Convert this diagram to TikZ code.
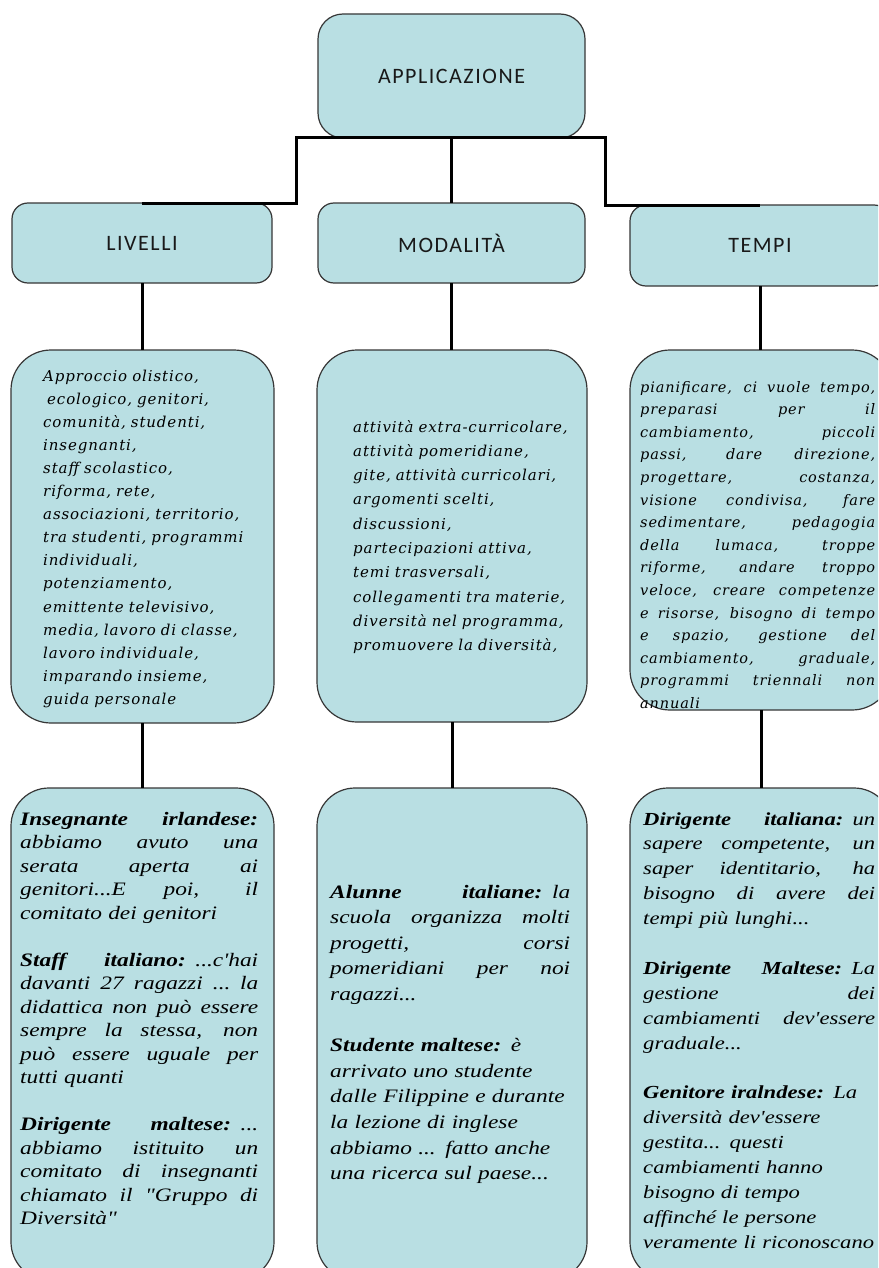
\documentclass[tikz,border=0pt]{standalone}
\usepackage{fontspec}
\newfontfamily\hfont{Carlito}[LetterSpace=7]
\newfontfamily\lfont{DejaVu Serif}[LetterSpace=6]
\newfontfamily\qfont{Liberation Serif}[FakeStretch=1.23]
\definecolor{boxfill}{RGB}{185,223,227}
\definecolor{edgecol}{RGB}{55,55,55}
\def\jw{240pt}
\newcommand\J[1]{\leavevmode\hbox to \jw{\spaceskip=0.25em plus 1fil\relax #1\unskip}\\}
\newcommand\bi[1]{{\bfseries #1}}
\tikzset{
  box/.style={draw=edgecol, line width=1.2pt, fill=boxfill, rounded corners=#1,
    anchor=north west, inner sep=0pt, outer sep=0pt},
  box/.default=16pt,
  conn/.style={draw=black, line width=3pt},
  head/.style={font=\hfont\fontsize{22}{26}\selectfont, text=black!90},
  lvtwo/.style={anchor=base west, inner sep=0pt, align=left,
    font=\lfont\itshape\fontsize{15}{#1}\selectfont},
  lvthree/.style={anchor=base west, inner sep=0pt, align=left,
    font=\qfont\itshape\fontsize{19}{#1}\selectfont},
}
\begin{document}
\begin{tikzpicture}[x=1pt,y=-1pt]
\useasboundingbox (0,0) rectangle (878,1268);
\clip (0,0) rectangle (878,1268);
\fill[white] (0,0) rectangle (878,1268);

% top and level 1
\node[box=25pt, minimum width=267pt, minimum height=124pt, head] (app) at (318,14) {APPLICAZIONE};
\node[box, minimum width=260pt, minimum height=80pt, head] (liv) at (12,203) {LIVELLI};
\node[box, minimum width=267pt, minimum height=80pt, head] (mod) at (318,203) {MODALITÀ};
\node[box, minimum width=260pt, minimum height=81pt, head] (tem) at (630,205) {TEMPI};

% level 2 boxes
\node[box=40pt, minimum width=263pt, minimum height=373pt] (liv2) at (11,350) {};
\node[box=40pt, minimum width=270pt, minimum height=372pt] (mod2) at (317,350) {};
\node[box=40pt, minimum width=262pt, minimum height=360pt] (tem2) at (630,350) {};

% level 3 boxes
\node[box=38pt, minimum width=263pt, minimum height=492pt] (liv3) at (11,788) {};
\node[box=38pt, minimum width=270pt, minimum height=492pt] (mod3) at (317,788) {};
\node[box=38pt, minimum width=262pt, minimum height=492pt] (tem3) at (630,788) {};

% connectors
\coordinate (bL) at (296,138);
\coordinate (bR) at (605,138);
\draw[conn] (liv.north) -| (bL) -- (bR) |- (tem.north);
\draw[conn] (app.south) -- (mod.north);
\draw[conn] (liv.south) -- (liv.south |- liv2.north);
\draw[conn] (mod.south) -- (mod.south |- mod2.north);
\draw[conn] (tem.south) -- (tem.south |- tem2.north);
\draw[conn] (liv2.south) -- (liv2.south |- liv3.north);
\draw[conn] (mod2.south) -- (mod2.south |- mod3.north);
\draw[conn] (tem2.south) -- (tem2.south |- tem3.north);

% level 2 texts
\node[lvtwo=23.1pt, text width=232pt] (liv2t) at (43,381) {%
Approccio olistico,\\
\hspace{4pt}ecologico, genitori,\\
comunità, studenti,\\
insegnanti,\\
staff scolastico,\\
riforma, rete,\\
associazioni, territorio,\\
tra studenti, programmi\\
individuali,\\
potenziamento,\\
emittente televisivo,\\
media, lavoro di classe,\\
lavoro individuale,\\
imparando insieme,\\
guida personale};

\node[lvtwo=24.3pt, text width=232pt] (mod2t) at (353,432) {%
attività extra-curricolare,\\
attività pomeridiane,\\
gite, attività curricolari,\\
argomenti scelti,\\
discussioni,\\
partecipazioni attiva,\\
temi trasversali,\\
collegamenti tra materie,\\
diversità nel programma,\\
promuovere la diversità,};

\node[lvtwo=22.6pt, text width=235pt, font=\lfont\itshape\fontsize{14.5}{22.6}\selectfont] (tem2t) at (640,392) {\def\jw{235pt}%
\J{pianificare, ci vuole tempo,}
\J{preparasi per il}
\J{cambiamento, piccoli}
\J{passi, dare direzione,}
\J{progettare, costanza,}
\J{visione condivisa, fare}
\J{sedimentare, pedagogia}
\J{della lumaca, troppe}
\J{riforme, andare troppo}
\J{veloce, creare competenze}
\J{e risorse, bisogno di tempo}
\J{e spazio, gestione del}
\J{cambiamento, graduale,}
\J{programmi triennali non}
annuali};

% level 3 texts
\node[lvthree=23.5pt, text width=238pt] (liv3t) at (20,825) {\def\jw{238pt}%
\J{\bi{Insegnante irlandese:}}
\J{abbiamo avuto una}
\J{serata aperta ai}
\J{genitori...E poi, il}
comitato dei genitori\\
\mbox{}\\
\J{\bi{Staff italiano:} ...c'hai}
\J{davanti 27 ragazzi ... la}
\J{didattica non può essere}
\J{sempre la stessa, non}
\J{può essere uguale per}
tutti quanti\\
\mbox{}\\
\J{\bi{Dirigente maltese:} ...}
\J{abbiamo istituito un}
\J{comitato di insegnanti}
\J{chiamato il "Gruppo di}
Diversità"};

\node[lvthree=25.6pt, text width=240pt] (mod3t) at (330,898) {\def\jw{240pt}%
\J{\bi{Alunne italiane:} la}
\J{scuola organizza molti}
\J{progetti, corsi}
\J{pomeridiani per noi}
ragazzi...\\
\mbox{}\\
\bi{Studente maltese:} è\\
arrivato uno studente\\
dalle Filippine e durante\\
la lezione di inglese\\
abbiamo ... fatto anche\\
una ricerca sul paese...};

\node[lvthree=24.9pt, text width=232pt, font=\qfont\itshape\fontsize{18.4}{24.9}\selectfont] (tem3t) at (643,825) {\def\jw{232pt}%
\J{\bi{Dirigente italiana:} un}
\J{sapere competente, un}
\J{saper identitario, ha}
\J{bisogno di avere dei}
tempi più lunghi...\\
\mbox{}\\
\J{\bi{Dirigente Maltese:} La}
\J{gestione dei}
\J{cambiamenti dev'essere}
graduale...\\
\mbox{}\\
\bi{Genitore iralndese:} La\\
diversità dev'essere\\
gestita... questi\\
cambiamenti hanno\\
bisogno di tempo\\
affinché le persone\\
veramente li riconoscano};
\end{tikzpicture}
\end{document}
